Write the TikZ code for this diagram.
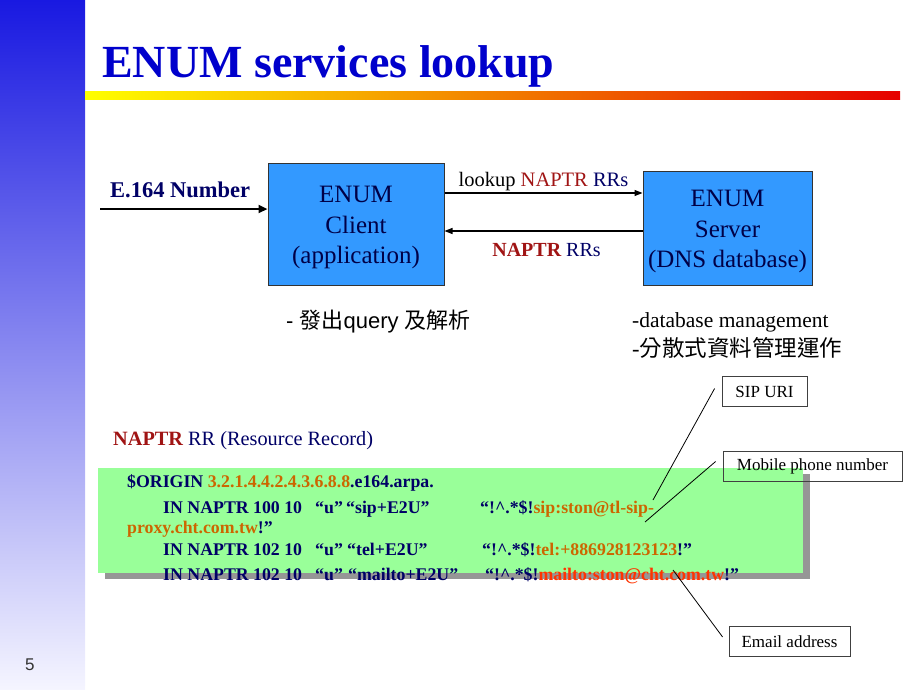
\documentclass[tikz,border=0pt]{standalone}
\usepackage{fontspec}
\setmainfont{Liberation Serif}
\newfontfamily\cjk{Noto Sans CJK TC}
\newfontfamily\arialfont{Liberation Sans}
\usetikzlibrary{arrows.meta}
\usetikzlibrary{positioning}
\usetikzlibrary{shadows}

\definecolor{titleblue}{RGB}{0,0,204}
\definecolor{boxblue}{RGB}{51,153,255}
\definecolor{navy}{RGB}{0,0,102}
\definecolor{naptrred}{RGB}{160,20,20}
\definecolor{uriorange}{RGB}{204,102,0}
\definecolor{mailred}{RGB}{255,51,0}
\definecolor{rrgreen}{RGB}{153,255,153}
\definecolor{shadowgray}{RGB}{150,150,150}

\tikzset{
  enumbox/.style={draw=black!80, line width=1pt, fill=boxblue, inner sep=0pt},
  enumtxt/.style={align=center, inner sep=0pt, text=navy!70!black, font=\fontsize{25}{30.5}\selectfont},
  lbl/.style={inner sep=0pt, anchor=base west},
  rec/.style={lbl, text=navy, font=\fontsize{17.8}{20}\selectfont\bfseries},
  callout/.style={draw=black!75, line width=0.8pt, inner sep=0pt, minimum height=30pt, font=\fontsize{17}{20}\selectfont},
  query/.style={-{Triangle[length=8pt,width=6pt]}, line width=1.2pt},
  numarrow/.style={-{Triangle[length=9pt,width=8pt]}, line width=2.6pt},
}

\begin{document}
\begin{tikzpicture}[x=1pt, y=-1pt]
    \useasboundingbox (0,0) rectangle (920,690);
    \shade[top color={rgb,255:red,25;green,25;blue,225}, middle color={rgb,255:red,125;green,125;blue,245}, bottom color={rgb,255:red,245;green,245;blue,255}] (0,0) rectangle (85,690);
    \shade[left color=yellow, middle color=orange, right color=red!90!black] (85,92) rectangle (900,100);
    \node[lbl, text=titleblue, font=\fontsize{46}{50}\selectfont\bfseries] (title) at (102,78) {ENUM services lookup};

    \node[enumbox, minimum width=176pt, minimum height=122pt] (client) at (356,224) {};
    \node[enumtxt] (clienttxt) at ([yshift=-3.5pt]client.center) {ENUM\\Client\\(application)};
    \node[enumbox, minimum width=169pt, minimum height=114pt] (server) at (727.5,228) {};
    \node[enumtxt] (servertxt) at ([yshift=-3.5pt]server.center) {ENUM\\Server\\(DNS database)};

    \coordinate (numin) at (100,209);
    \draw[numarrow] (numin) -- (numin -| client.west);
    \node[lbl, text=navy, font=\fontsize{22.5}{26}\selectfont\bfseries] (numlbl) at (110,197) {E.164 Number};
    \coordinate (qa) at ([yshift=31pt]client.east);
    \draw[query] (qa) -- (qa -| server.west)
        node[midway, above=2pt, inner sep=0pt, font=\fontsize{20.5}{24}\selectfont] (qlbl) {lookup \textcolor{naptrred}{NAPTR} \textcolor{navy}{RRs}};
    \coordinate (ra) at ([yshift=-7pt]client.east);
    \draw[query] (ra -| server.west) -- (ra)
        node[midway, below=11.5pt, xshift=3pt, inner sep=0pt, text=navy, font=\fontsize{20}{24}\selectfont] (rlbl) {\textcolor{naptrred}{\bfseries NAPTR} RRs};

    \node[lbl, font=\fontsize{22}{26}\selectfont] (clientnote) at (286,328) {\arialfont - \cjk 發出\arialfont query \cjk 及解析};
    \node[lbl, font=\fontsize{21.5}{26}\selectfont] (servernote) at (632,327) {-database management};
    \node[lbl, font=\fontsize{22.5}{26}\selectfont] (servernote2) at (632,356) {-{\cjk 分散式資料管理運作}};

    \node[lbl, text=navy, font=\fontsize{20.3}{24}\selectfont] (rrtitle) at (113,445) {\textcolor{naptrred}{\bfseries NAPTR} RR (Resource Record)};
    \node[fill=rrgreen, minimum width=705pt, minimum height=105pt, inner sep=0pt,
          drop shadow={shadow xshift=7pt, shadow yshift=-6pt, fill=shadowgray, opacity=1}] (rrbox) at (450.5,520.5) {};
    \node[rec] (origin) at (127,487) {\$ORIGIN \textcolor{uriorange}{3.2.1.4.4.2.4.3.6.8.8}.e164.arpa.};
    \foreach \yy/\ord/\svc/\sx/\rx/\uri [count=\i] in {
        513/100/sip+E2U/346/480/{\textcolor{uriorange}{sip:ston@tl-sip-}},
        555/102/tel+E2U/347/482/{\textcolor{uriorange}{tel:+886928123123}!”},
        580/102/mailto+E2U/348/485/{\textcolor{mailred}{mailto:ston@cht.com.tw}!”}} {
        \node[rec] (in\i) at (163,\yy) {IN NAPTR \ord{} 10};
        \node[rec] (u\i) at (315,\yy) {“u”};
        \node[rec] (svc\i) at (\sx,\yy) {“\svc”};
        \node[rec] (rx\i) at (\rx,\yy) {“!\textasciicircum.*\$!\uri};
    }
    \node[rec] (proxy) at (127,533) {\textcolor{uriorange}{proxy.cht.com.tw}!”};

    \node[callout, minimum width=85pt] (sipuri) at (764.5,391.5) {SIP URI};
    \node[callout, minimum width=179pt] (mobile) at (812.5,466.5) {Mobile phone number};
    \node[callout, minimum width=121pt] (email) at (789.5,641.5) {Email address};
    \coordinate (sipend) at (653,500);
    \coordinate (telend) at (645,522);
    \coordinate (mailend) at (673,570);
    \draw[line width=0.8pt] ([shift={(-7,-3)}]sipuri.west) -- (sipend);
    \draw[line width=0.8pt] ([shift={(-7,-5)}]mobile.west) -- (telend);
    \draw[line width=0.8pt] (mailend) -- ([shift={(-6,-4.5)}]email.west);

    \node[lbl, text=black!80, font=\arialfont\fontsize{17}{20}\selectfont] (pagenum) at (25,670) {5};
\end{tikzpicture}
\end{document}
